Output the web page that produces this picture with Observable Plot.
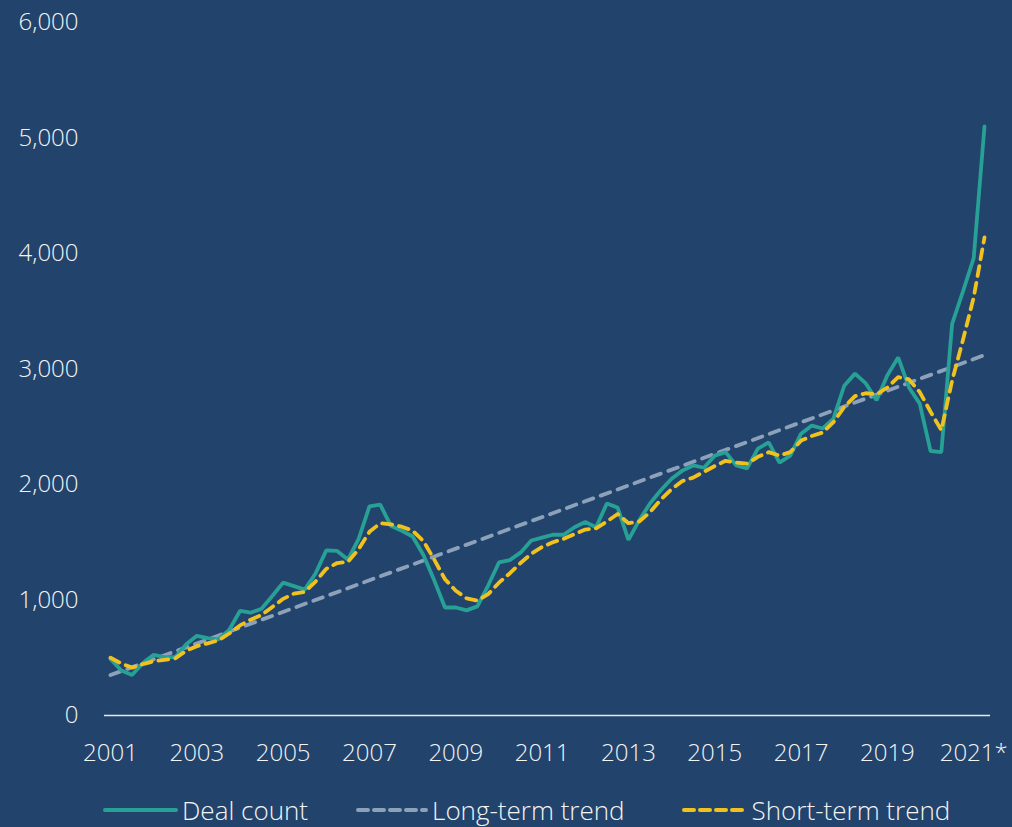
<!DOCTYPE html>
<html>
<head>
<meta charset="utf-8">
<script src="https://cdn.jsdelivr.net/npm/d3@7"></script>
<script src="https://cdn.jsdelivr.net/npm/@observablehq/plot@0.6"></script>
<style>
  html, body { margin: 0; padding: 0; background: #22436b; }
  #wrap { width: 1012px; height: 827px; position: relative; background: #22436b; overflow: hidden; }
  #legend { position: absolute; left: 103px; top: 796px; height: 28px; display: flex; align-items: center;
    font-family: "Open Sans", sans-serif; font-weight: 300; font-size: 26px; line-height: 28px; color: #f4f4f4; white-space: nowrap; }
  .item { display: flex; align-items: center; height: 28px; }
  .item svg { margin-right: 4px; }
</style>
</head>
<body>
<div id="wrap">
  <div id="chart"></div>
  <div id="legend"></div>
</div>
<script>
// Quarterly series, 2001 Q1 ... 2021 Q2
const startYear = 2001;
const dealCount = [
  490, 390, 350, 455, 525, 505, 505, 615,
  690, 670, 660, 740, 905, 890, 925, 1035,
  1150, 1120, 1090, 1230, 1430, 1425, 1350, 1530,
  1810, 1825, 1640, 1600, 1550, 1390, 1170, 935,
  935, 910, 945, 1125, 1325, 1345, 1410, 1515,
  1540, 1565, 1565, 1630, 1675, 1630, 1835, 1800,
  1520, 1690, 1835, 1950, 2050, 2120, 2165, 2145,
  2250, 2280, 2165, 2140, 2310, 2365, 2190, 2250,
  2440, 2510, 2485, 2570, 2855, 2960, 2875, 2730,
  2945, 3100, 2840, 2700, 2290, 2280, 3390, 3670,
  3960, 5100
];
const shortTerm = [
  500, 450, 415, 445, 470, 482, 495, 560,
  600, 625, 650, 710, 780, 830, 870, 940,
  1010, 1055, 1070, 1160, 1270, 1320, 1330, 1440,
  1590, 1665, 1655, 1635, 1600, 1510, 1350, 1180,
  1080, 1015, 995, 1050, 1150, 1230, 1320, 1400,
  1460, 1500, 1530, 1570, 1610, 1620, 1680, 1745,
  1665, 1680, 1760, 1870, 1960, 2030, 2060, 2110,
  2160, 2205, 2190, 2180, 2240, 2280, 2250, 2280,
  2380, 2420, 2450, 2540, 2670, 2765, 2790, 2780,
  2840, 2930, 2910, 2800, 2630, 2470, 2900, 3250,
  3620, 4140
];
// Long-term (linear) trend: start and end values
const longTermIndex = [0, 81];
const longTermValues = [350, 3120];

const xTicks = [2001, 2003, 2005, 2007, 2009, 2011, 2013, 2015, 2017, 2019, 2021];
const xTickLabels = ["2001", "2003", "2005", "2007", "2009", "2011", "2013", "2015", "2017", "2019", "2021*"];
const yTicks = [0, 1000, 2000, 3000, 4000, 5000, 6000];

const seriesNames = ["Deal count", "Long-term trend", "Short-term trend"];
const colors = { teal: "#27a096", gray: "#8da2ba", yellow: "#f1c21d" };

const toT = i => startYear + i / 4;
const dealData = dealCount.map((v, i) => ({ t: toT(i), v }));
const shortData = shortTerm.map((v, i) => ({ t: toT(i), v }));
const longData = longTermIndex.map((i, k) => ({ t: toT(i), v: longTermValues[k] }));

const chart = Plot.plot({
  width: 1012,
  height: 780,
  marginLeft: 104,
  marginRight: 22,
  marginTop: 22,
  marginBottom: 65,
  style: { background: "#22436b", color: "#f4f4f4", fontFamily: "'Open Sans', sans-serif", fontWeight: 300, fontSize: "24px" },
  x: { domain: [2001, 2021.25], inset: 6 },
  y: { domain: [0, 6000] },
  marks: [
    Plot.axisX({ ticks: xTicks, tickFormat: d => xTickLabels[xTicks.indexOf(d)], tickSize: 0, tickPadding: 28, label: null, fontSize: 24 }),
    Plot.axisY({ ticks: yTicks, tickFormat: d3.format(","), tickSize: 0, tickPadding: 26, label: null, fontSize: 24 }),
    Plot.ruleY([0], { stroke: "#e8e8e8", strokeWidth: 1.5 }),
    Plot.line(longData, { x: "t", y: "v", stroke: colors.gray, strokeWidth: 3.8, strokeDasharray: "10,8", strokeLinecap: "round" }),
    Plot.line(dealData, { x: "t", y: "v", stroke: colors.teal, strokeWidth: 3.8, strokeLinejoin: "miter" }),
    Plot.line(shortData, { x: "t", y: "v", stroke: colors.yellow, strokeWidth: 3.8, strokeDasharray: "10,7", strokeLinecap: "round" })
  ]
});
document.getElementById("chart").appendChild(chart);

// Legend
const legend = d3.select("#legend");
const legendItems = [
  { name: seriesNames[0], color: colors.teal, dash: null, w: 75, gap: 0 },
  { name: seriesNames[1], color: colors.gray, dash: "10,6", w: 72, gap: 48 },
  { name: seriesNames[2], color: colors.yellow, dash: "10,6", w: 66, gap: 57 }
];
legendItems.forEach(it => {
  const d = legend.append("div").attr("class", "item").style("margin-left", it.gap + "px");
  const s = d.append("svg").attr("width", it.w).attr("height", 10);
  s.append("line").attr("x1", 2).attr("x2", it.w - 2).attr("y1", 5).attr("y2", 5)
    .attr("stroke", it.color).attr("stroke-width", 4).attr("stroke-linecap", "round")
    .attr("stroke-dasharray", it.dash);
  d.append("span").text(it.name);
});
</script>
</body>
</html>
